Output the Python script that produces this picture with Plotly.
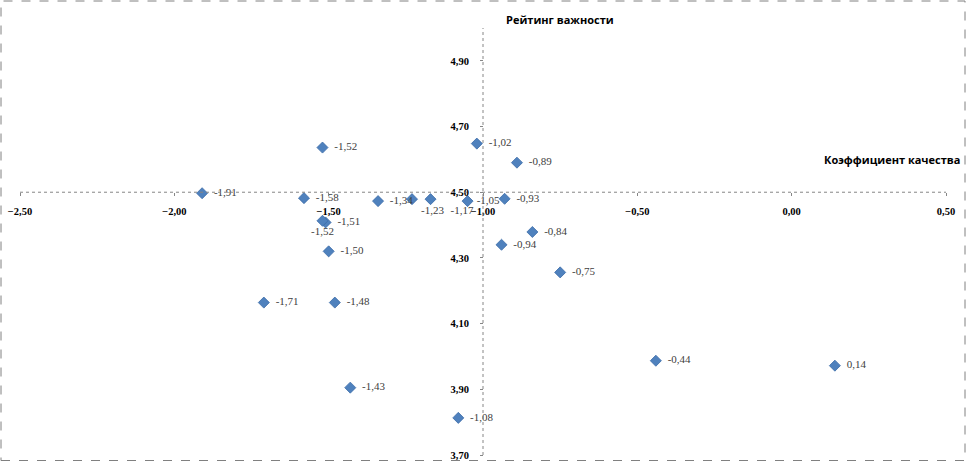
import plotly.graph_objects as go

# Data: quality coefficient (x) vs importance rating (y)
quality = [-1.91, -1.58, -1.52, -1.51, -1.52, -1.50, -1.34, -1.23, -1.17,
           -1.05, -1.02, -0.89, -0.93, -0.84, -0.94, -0.75, -1.71, -1.48, -1.43,
           -1.08, -0.44, 0.14]
importance = [4.497, 4.482, 4.636, 4.408, 4.413, 4.32, 4.473, 4.479, 4.479,
              4.473, 4.648, 4.59, 4.48, 4.379, 4.34, 4.256, 4.164, 4.164, 3.905,
              3.813, 3.987, 3.972]
label_pos = ["middle right", "middle right", "middle right", "middle right",
             "bottom center", "middle right", "middle right", "bottom right", "bottom right",
             "middle right", "middle right", "middle right", "middle right", "middle right",
             "middle right", "middle right", "middle right", "middle right", "middle right",
             "middle right", "middle right", "middle right"]
label_pad = [2, 2, 2, 2, 0, 2, 2, 1, 5, 1, 2, 2, 2, 2, 2, 2, 2, 2, 2, 2, 2, 2]

x_range = [-2.5, 0.5]
y_range = [3.7, 5.0]
x_cross = -1.0   # y axis crosses x here
y_cross = 4.5    # x axis crosses y here
x_title = "Коэффициент качества"
y_title = "Рейтинг важности"

W, H = 967, 462
ml, mr, mt, mb = 20, 21, 28, 7
pw, ph = W - ml - mr, H - mt - mb

def px_to_paper_x(px):
    return (px - ml) / pw

def px_to_paper_y(py):
    return (H - mb - py) / ph

labels = ["\u00a0" * n + f"{v:.2f}".replace(".", ",")
          for v, n in zip(quality, label_pad)]

fig = go.Figure()
fig.add_trace(go.Scatter(
    x=quality, y=importance, mode="markers+text",
    marker=dict(symbol="diamond", size=8.5, color="#4F81BD",
                line=dict(color="#3C6CA8", width=0.8)),
    text=labels, textposition=label_pos,
    textfont=dict(family="Liberation Serif", size=11, color="#404040"),
    cliponaxis=False, hoverinfo="skip",
))

tickfont = dict(family="Liberation Serif", size=10.5, color="#000000", weight="bold")
fig.update_layout(
    width=W, height=H, margin=dict(l=ml, r=mr, t=mt, b=mb, autoexpand=False),
    paper_bgcolor="white", plot_bgcolor="white",
    separators=", ", showlegend=False,
    xaxis=dict(range=x_range, dtick=0.5, tick0=-2.5, tickformat=".2f",
               showgrid=False, zeroline=False, showline=False, automargin=False,
               anchor="free",
               position=(y_cross - y_range[0]) / (y_range[1] - y_range[0]),
               ticks="outside", ticklen=3, tickcolor="#868686",
               ticklabelstandoff=6, tickfont=tickfont),
    yaxis=dict(range=y_range, dtick=0.2, tick0=3.7, tickformat=".2f",
               showgrid=False, zeroline=False, showline=False, automargin=False,
               anchor="free",
               position=(x_cross - x_range[0]) / (x_range[1] - x_range[0]),
               ticks="outside", ticklen=3, tickcolor="#868686",
               ticklabelstandoff=9, tickfont=tickfont),
)

# dotted axis lines
fig.add_shape(type="line", xref="x", yref="y", x0=x_range[0], x1=x_range[1],
              y0=y_cross, y1=y_cross, line=dict(color="#868686", width=1, dash="dot"))
fig.add_shape(type="line", xref="x", yref="y", x0=x_cross, x1=x_cross,
              y0=y_range[0], y1=y_range[1], line=dict(color="#868686", width=1, dash="dot"))

# dashed chart border
fig.add_shape(type="rect", xref="paper", yref="paper",
              x0=px_to_paper_x(1), x1=px_to_paper_x(965),
              y0=px_to_paper_y(460.5), y1=px_to_paper_y(1),
              line=dict(color="#808080", width=1, dash="dash"))

title_font = dict(family="Open Sans", size=11, color="#000000")
fig.add_annotation(text="<b>" + y_title + "</b>", xref="paper", yref="paper",
                   x=px_to_paper_x(559.5), y=px_to_paper_y(20),
                   xanchor="center", yanchor="middle", showarrow=False, font=title_font)
fig.add_annotation(text="<b>" + x_title + "</b>", xref="paper", yref="paper",
                   x=px_to_paper_x(891.5), y=px_to_paper_y(159),
                   xanchor="center", yanchor="middle", showarrow=False, font=title_font)

fig.write_html("out.html", config={"displayModeBar": False},
               post_script="document.body.style.margin='0';document.body.style.overflow='hidden';")
